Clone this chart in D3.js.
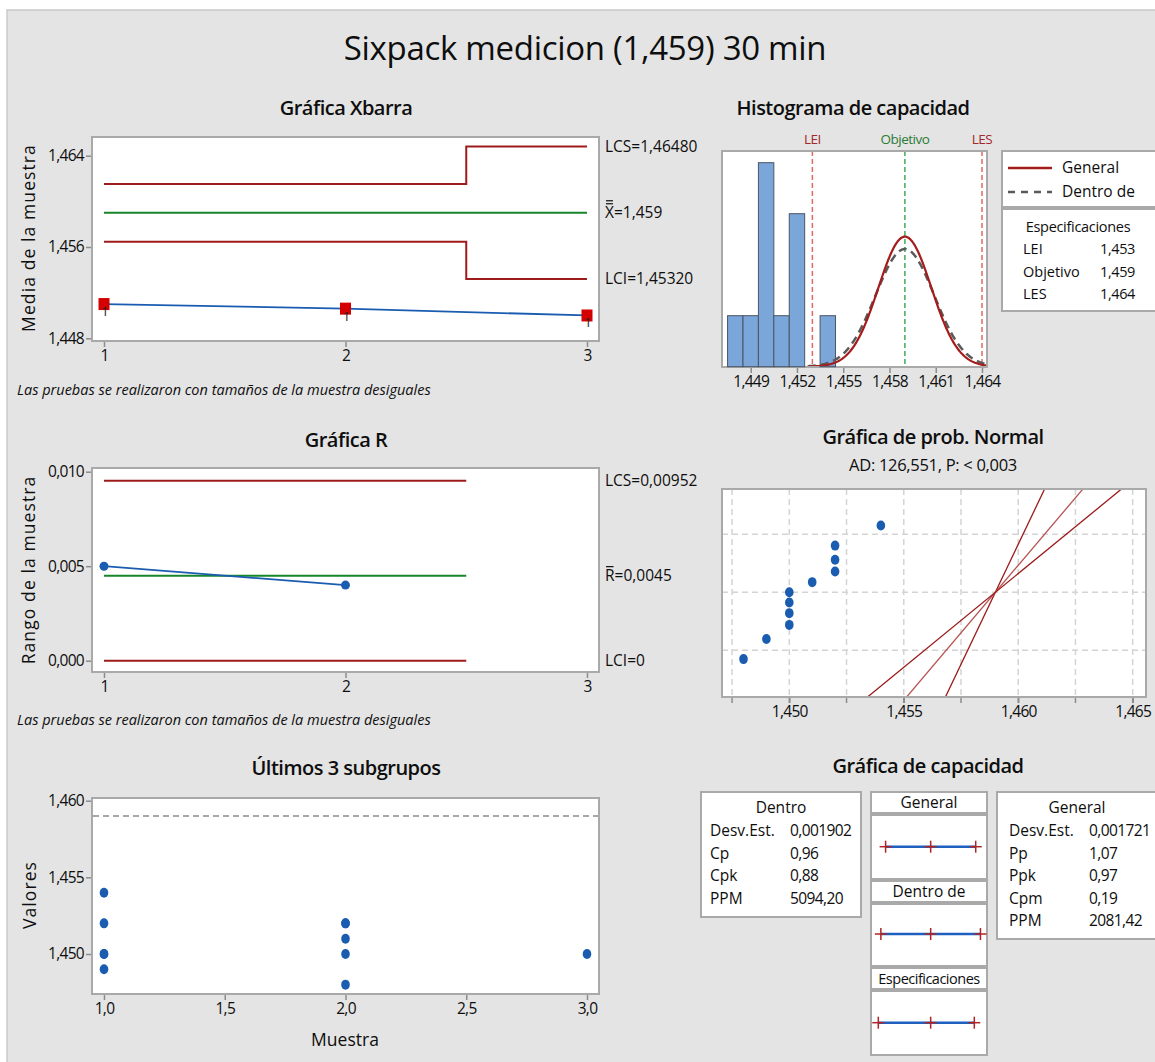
<!DOCTYPE html>
<html lang="es">
<head>
<meta charset="UTF-8">
<title>Sixpack medicion (1,459) 30 min</title>
<style>
  body { margin: 0; background: #fff; }
  svg text { font-family: "Open Sans", "Noto Sans", sans-serif; }
</style>
</head>
<body>
<svg width="1155" height="1062"></svg>
<script src="https://d3js.org/d3.v7.min.js"></script>
<script>

// ---- data ----
var subgroups = [1, 2, 3];
var subgroupValues = [
    [1.454, 1.452, 1.450, 1.450, 1.449],
    [1.452, 1.452, 1.451, 1.450, 1.448],
    [1.450]
];
var xbarMeans = [1.4510, 1.4506, 1.4500];
var xbarUCL = [1.46152, 1.46152, 1.46480];
var xbarLCL = [1.45645, 1.45645, 1.45320];
var xbarCenter = 1.459;

var rSubgroups = [1, 2];
var rValues = [0.005, 0.004];
var rUCL = [0.00952, 0.00952];
var rLCL = [0, 0];
var rCenter = 0.0045;

var histMids = [1.448, 1.449, 1.450, 1.451, 1.452, 1.453, 1.454];
var histCounts = [1, 1, 4, 1, 3, 0, 1];
var histTicks = [1.449, 1.452, 1.455, 1.458, 1.461, 1.464];

var specNames = ["LEI", "Objetivo", "LES"];
var specValues = [1.453, 1.459, 1.464];
var specLabels = ["1,453", "1,459", "1,464"];

var processMean = 1.459;
var sdWithin = 0.001902;
var sdOverall = 0.001721;
var nTotal = 11;

var probValues = [1.448, 1.449, 1.450, 1.450, 1.450, 1.450, 1.451, 1.452, 1.452, 1.452, 1.454];
var probLineSd = [0.001006, 0.001788, 0.002576];
var probTicks = [1.450, 1.455, 1.460, 1.465];
var probGridX = [1.4475, 1.450, 1.4525, 1.455, 1.4575, 1.460, 1.4625, 1.465];
var probGridZ = [-1.2, 0, 1.2];

var withinRows = [["Desv.Est.", "0,001902"], ["Cp", "0,96"], ["Cpk", "0,88"], ["PPM", "5094,20"]];
var overallRows = [["Desv.Est.", "0,001721"], ["Pp", "1,07"], ["Ppk", "0,97"], ["Cpm", "0,19"], ["PPM", "2081,42"]];

// ---- helpers ----
var locale = d3.formatLocale({decimal: ",", thousands: ".", grouping: [3], currency: ["", ""]});
var f3 = locale.format(".3f"), f1 = locale.format(".1f"), f0 = locale.format("d");

var RED = "#9e1b1b", GREEN = "#17862b", BLUE = "#1a5cb0", FRAME = "#a9a9a9", INK = "#0e0e0e";

var svg = d3.select("svg");
svg.append("rect").attr("x", 7).attr("y", 10).attr("width", 1150).attr("height", 1054)
    .attr("fill", "#e4e4e4").attr("stroke", "#c9c9c9").attr("stroke-width", 1.5);

function txt(x, y, s, size, anchor) {
    return svg.append("text").attr("x", x).attr("y", y).attr("font-size", size)
        .attr("fill", INK).attr("text-anchor", anchor || "start").text(s);
}

function title(x, y, s, size) {
    return txt(x, y, s, size, "middle").attr("font-weight", 600).attr("letter-spacing", -0.5);
}

function frame(x0, y0, x1, y1) {
    svg.append("rect").attr("x", x0).attr("y", y0).attr("width", x1 - x0).attr("height", y1 - y0)
        .attr("fill", "#fff").attr("stroke", FRAME).attr("stroke-width", 2);
}

function clip(id, x0, y0, x1, y1) {
    svg.append("clipPath").attr("id", id).append("rect")
        .attr("x", x0).attr("y", y0).attr("width", x1 - x0).attr("height", y1 - y0);
}

function styleAxis(g, size) {
    g.select(".domain").remove();
    g.selectAll(".tick line").attr("stroke", "#8c8c8c").attr("stroke-width", 1.5);
    g.selectAll(".tick text").attr("font-size", size || 15.5).attr("fill", INK)
        .attr("font-family", "'Open Sans', sans-serif").attr("letter-spacing", -0.7);
}

function leftAxis(y, x0, ticks, fmt) {
    var g = svg.append("g").attr("transform", "translate(" + (x0 - 1) + ",0)")
        .call(d3.axisLeft(y).tickValues(ticks).tickFormat(fmt).tickSize(5).tickPadding(2));
    styleAxis(g);
}

function bottomAxis(x, y1, ticks, fmt, size) {
    var g = svg.append("g").attr("transform", "translate(0," + (y1 + 1) + ")")
        .call(d3.axisBottom(x).tickValues(ticks).tickFormat(fmt).tickSize(5).tickPadding(3));
    styleAxis(g, size);
}

function vLabel(x, y, s) {
    svg.append("text").attr("transform", "translate(" + x + "," + y + ") rotate(-90)")
        .attr("text-anchor", "middle").attr("font-size", 17.5).attr("fill", INK)
        .attr("letter-spacing", 1.1).text(s);
}

// step line for limits: each subgroup from i-0.5 to i+0.5, clamped
function stepPoints(ids, vals) {
    var pts = [];
    ids.forEach(function(i, k) {
        pts.push([Math.max(1, i - 0.5), vals[k]]);
        pts.push([Math.min(3, i + 0.5), vals[k]]);
    });
    return pts;
}

// label with an overline (or double overline) over the first letter
function barLabel(x, y, letter, bars, rest) {
    var t = txt(x, y, letter, 15.5);
    var w = t.node().getComputedTextLength();
    for (var b = 0; b < bars; b++) {
        svg.append("line").attr("x1", x + 1).attr("x2", x + w - 1)
            .attr("y1", y - 14 - b * 3).attr("y2", y - 14 - b * 3)
            .attr("stroke", INK).attr("stroke-width", 1.2);
    }
    txt(x + w, y, rest, 15.5);
}

// inverse normal cdf (central region, Acklam) for plotting positions
function probit(p) {
    var a = [-39.69683028665376, 220.9460984245205, -275.9285104469687, 138.3577518672690, -30.66479806614716, 2.506628277459239];
    var b = [-54.47609879822406, 161.5858368580409, -155.6989798598866, 66.80131188771972, -13.28068155288572];
    var q = p - 0.5, r = q * q;
    return (((((a[0] * r + a[1]) * r + a[2]) * r + a[3]) * r + a[4]) * r + a[5]) * q /
        (((((b[0] * r + b[1]) * r + b[2]) * r + b[3]) * r + b[4]) * r + 1);
}

// ---- title ----
txt(585, 60, "Sixpack medicion (1,459) 30 min", 33, "middle").attr("letter-spacing", -0.3);

var xSub = d3.scaleLinear().domain([1, 3]).range([104, 587]);

// ---- Xbar chart ----
title(346, 115, "Gráfica Xbarra", 20);
frame(92, 137, 599, 341);
var yX = d3.scaleLinear().domain([1.448, 1.464]).range([338.3, 155.7]);
leftAxis(yX, 92, [1.448, 1.456, 1.464], f3);
bottomAxis(xSub, 341, subgroups, f0);
vLabel(35, 238, "Media de la muestra");

var limLine = d3.line().x(function(d) { return xSub(d[0]); }).y(function(d) { return yX(d[1]); });
svg.append("path").attr("d", limLine(stepPoints(subgroups, xbarUCL))).attr("fill", "none").attr("stroke", RED).attr("stroke-width", 2);
svg.append("path").attr("d", limLine(stepPoints(subgroups, xbarLCL))).attr("fill", "none").attr("stroke", RED).attr("stroke-width", 2);
svg.append("path").attr("d", limLine([[1, xbarCenter], [3, xbarCenter]])).attr("fill", "none").attr("stroke", GREEN).attr("stroke-width", 2);

svg.append("path").attr("d", limLine(subgroups.map(function(s, i) { return [s, xbarMeans[i]]; })))
    .attr("fill", "none").attr("stroke", BLUE).attr("stroke-width", 1.8);
svg.selectAll(".xsq").data(xbarMeans).enter().append("rect")
    .attr("x", function(d, i) { return xSub(subgroups[i]) - 5.5; })
    .attr("y", function(d) { return yX(d) - 6; })
    .attr("width", 11).attr("height", 12).attr("fill", "#d40000");
svg.selectAll(".xone").data(xbarMeans).enter().append("text")
    .attr("x", function(d, i) { return xSub(subgroups[i]) + 1; })
    .attr("y", function(d) { return yX(d) + 12; })
    .attr("font-size", 13).attr("fill", "#222").attr("text-anchor", "middle").text("1");

txt(605, yX(xbarUCL[2]) + 5, "LCS=1,46480", 15.5);
barLabel(605, yX(xbarCenter) + 5, "X", 2, "=1,459");
txt(605, yX(xbarLCL[2]) + 5, "LCI=1,45320", 15.5);
txt(17, 395, "Las pruebas se realizaron con tamaños de la muestra desiguales", 14.5).attr("font-style", "italic");

// ---- R chart ----
title(346, 447, "Gráfica R", 20);
frame(92, 468, 599, 672);
var yR = d3.scaleLinear().domain([0, 0.010]).range([660.7, 471.7]);
leftAxis(yR, 92, [0, 0.005, 0.010], f3);
bottomAxis(xSub, 672, subgroups, f0);
vLabel(35, 570, "Rango de la muestra");

var rLine = d3.line().x(function(d) { return xSub(d[0]); }).y(function(d) { return yR(d[1]); });
svg.append("path").attr("d", rLine(stepPoints(rSubgroups, rUCL))).attr("fill", "none").attr("stroke", RED).attr("stroke-width", 2);
svg.append("path").attr("d", rLine(stepPoints(rSubgroups, rLCL))).attr("fill", "none").attr("stroke", RED).attr("stroke-width", 2);
svg.append("path").attr("d", rLine([[1, rCenter], [2.5, rCenter]])).attr("fill", "none").attr("stroke", GREEN).attr("stroke-width", 2);
svg.append("path").attr("d", rLine(rSubgroups.map(function(s, i) { return [s, rValues[i]]; })))
    .attr("fill", "none").attr("stroke", BLUE).attr("stroke-width", 1.8);
svg.selectAll(".rpt").data(rValues).enter().append("circle")
    .attr("cx", function(d, i) { return xSub(rSubgroups[i]); })
    .attr("cy", function(d) { return yR(d); })
    .attr("r", 4.5).attr("fill", BLUE);

txt(605, yR(rUCL[0]) + 5, "LCS=0,00952", 15.5);
barLabel(605, yR(rCenter) + 5, "R", 1, "=0,0045");
txt(605, yR(0) + 5, "LCI=0", 15.5);
txt(17, 725, "Las pruebas se realizaron con tamaños de la muestra desiguales", 14.5).attr("font-style", "italic");

// ---- Last 3 subgroups ----
title(346, 775, "Últimos 3 subgrupos", 20);
frame(92, 798, 599, 994);
var yV = d3.scaleLinear().domain([1.450, 1.460]).range([954, 800.7]);
leftAxis(yV, 92, [1.450, 1.455, 1.460], f3);
bottomAxis(xSub, 994, [1, 1.5, 2, 2.5, 3], f1);
vLabel(36, 895, "Valores");
txt(345, 1046, "Muestra", 17.5, "middle");

svg.append("line").attr("x1", 93).attr("x2", 598).attr("y1", yV(processMean)).attr("y2", yV(processMean))
    .attr("stroke", "#8a8a8a").attr("stroke-width", 1.5).attr("stroke-dasharray", "6,4");
var lastPts = [];
subgroupValues.forEach(function(vals, i) { vals.forEach(function(v) { lastPts.push([subgroups[i], v]); }); });
svg.selectAll(".lpt").data(lastPts).enter().append("ellipse")
    .attr("cx", function(d) { return xSub(d[0]); })
    .attr("cy", function(d) { return yV(d[1]); })
    .attr("rx", 4.3).attr("ry", 5).attr("fill", BLUE);

// ---- Capability histogram ----
title(853, 115, "Histograma de capacidad", 20);
frame(722, 151, 987, 367);
var xH = d3.scaleLinear().domain([1.449, 1.464]).range([750.7, 982]);
var yH = d3.scaleLinear().domain([0, 4]).range([366.7, 162.7]);
bottomAxis(xH, 367, histTicks, f3);
clip("hclip", 723, 152, 986, 366);

svg.selectAll(".bar").data(histMids).enter().append("rect")
    .filter(function(d, i) { return histCounts[i] > 0; })
    .attr("x", function(d) { return xH(d - 0.0005); })
    .attr("y", function(d) { return yH(histCounts[histMids.indexOf(d)]); })
    .attr("width", function(d) { return xH(d + 0.0005) - xH(d - 0.0005); })
    .attr("height", function(d) { return yH(0) - yH(histCounts[histMids.indexOf(d)]); })
    .attr("fill", "#7ba6da").attr("stroke", "#4b5563").attr("stroke-width", 1);

var hg = svg.append("g").attr("clip-path", "url(#hclip)");
var specColors = ["#e06a6a", "#3fae5a", "#e06a6a"];
specValues.forEach(function(v, i) {
    hg.append("line").attr("x1", xH(v)).attr("x2", xH(v)).attr("y1", 151).attr("y2", 367)
        .attr("stroke", specColors[i]).attr("stroke-width", 1.5).attr("stroke-dasharray", "5,3");
});
var labelColors = ["#a3282a", "#2b7a36", "#a3282a"];
specNames.forEach(function(n, i) {
    txt(xH(specValues[i]), 144, n, 13.5, "middle").attr("fill", labelColors[i]).attr("letter-spacing", -0.5);
});

function curve(sd) {
    var pts = d3.range(1.4527, 1.4644, 0.00005).map(function(x) {
        var z = (x - processMean) / sd;
        return [x, nTotal * 0.001 * Math.exp(-0.5 * z * z) / (sd * Math.sqrt(2 * Math.PI))];
    });
    return d3.line().x(function(d) { return xH(d[0]); }).y(function(d) { return yH(d[1]); })(pts);
}
hg.append("path").attr("d", curve(sdWithin)).attr("fill", "none").attr("stroke", "#5a5a5a")
    .attr("stroke-width", 2.5).attr("stroke-dasharray", "8,5");
hg.append("path").attr("d", curve(sdOverall)).attr("fill", "none").attr("stroke", "#a51c1c").attr("stroke-width", 2.2);

// legend boxes
svg.append("rect").attr("x", 1002).attr("y", 151).attr("width", 165).attr("height", 56)
    .attr("fill", "#fff").attr("stroke", FRAME).attr("stroke-width", 2);
svg.append("line").attr("x1", 1008).attr("x2", 1052).attr("y1", 168).attr("y2", 168)
    .attr("stroke", "#a51c1c").attr("stroke-width", 2.5);
txt(1062, 173, "General", 15.5);
svg.append("line").attr("x1", 1008).attr("x2", 1052).attr("y1", 192).attr("y2", 192)
    .attr("stroke", "#5a5a5a").attr("stroke-width", 2.5).attr("stroke-dasharray", "7,6");
txt(1062, 197, "Dentro de", 15.5);

svg.append("rect").attr("x", 1002).attr("y", 209).attr("width", 165).attr("height", 102)
    .attr("fill", "#fff").attr("stroke", FRAME).attr("stroke-width", 2);
txt(1078, 232, "Especificaciones", 14.5, "middle").attr("letter-spacing", -0.3);
specNames.forEach(function(n, i) {
    txt(1023, 254 + i * 22.5, n, 14.5);
    txt(1135, 254 + i * 22.5, specLabels[i], 14.5, "end").attr("letter-spacing", -0.4);
});

// ---- Normal probability plot ----
title(933, 444, "Gráfica de prob. Normal", 20);
txt(933, 471, "AD: 126,551, P: < 0,003", 16.5, "middle").attr("letter-spacing", -0.3);
frame(722, 489, 1146, 697);
var xP = d3.scaleLinear().domain([1.450, 1.465]).range([789.3, 1132.7]);
var yP = d3.scaleLinear().domain([-2.161, 2.133]).range([696.7, 489.3]);
bottomAxis(xP, 697, probTicks, f3);
clip("pclip", 723, 490, 1145, 696);

var pg = svg.append("g").attr("clip-path", "url(#pclip)");
probGridX.forEach(function(v) {
    pg.append("line").attr("x1", xP(v)).attr("x2", xP(v)).attr("y1", 489).attr("y2", 697)
        .attr("stroke", "#d4d4d4").attr("stroke-width", 1.5).attr("stroke-dasharray", "6,4");
});
probGridZ.forEach(function(z) {
    pg.append("line").attr("x1", 722).attr("x2", 1146).attr("y1", yP(z)).attr("y2", yP(z))
        .attr("stroke", "#d4d4d4").attr("stroke-width", 1.5).attr("stroke-dasharray", "6,4");
});
// small ticks for the minor grid positions
probGridX.forEach(function(v) {
    svg.append("line").attr("x1", xP(v)).attr("x2", xP(v)).attr("y1", 698).attr("y2", 703)
        .attr("stroke", "#8c8c8c").attr("stroke-width", 1.5);
});
probLineSd.forEach(function(sd, i) {
    pg.append("line")
        .attr("x1", xP(processMean + sd * yP.domain()[0])).attr("y1", yP(yP.domain()[0]))
        .attr("x2", xP(processMean + sd * yP.domain()[1])).attr("y2", yP(yP.domain()[1]))
        .attr("stroke", i === 1 ? "#b75252" : "#9a1a1a").attr("stroke-width", 1.3);
});
var sorted = probValues.slice().sort(d3.ascending);
svg.selectAll(".ppt").data(sorted).enter().append("ellipse")
    .attr("cx", function(d) { return xP(d); })
    .attr("cy", function(d, i) { return yP(probit((i + 1) / (sorted.length + 1))); })
    .attr("rx", 4.3).attr("ry", 5).attr("fill", BLUE);

// ---- Capability plot ----
title(928, 773, "Gráfica de capacidad", 20);

function statBox(x0, y0, x1, y1, head, hx, rows, lx, vx) {
    svg.append("rect").attr("x", x0).attr("y", y0).attr("width", x1 - x0).attr("height", y1 - y0)
        .attr("fill", "#fff").attr("stroke", FRAME).attr("stroke-width", 2);
    txt(hx, y0 + 21, head, 15.5, "middle");
    rows.forEach(function(r, i) {
        txt(lx, y0 + 44 + i * 22.6, r[0], 15.5);
        txt(vx, y0 + 44 + i * 22.6, r[1], 15.5).attr("letter-spacing", -0.6);
    });
}
statBox(701, 792, 861, 917, "Dentro", 781, withinRows, 710, 790);
statBox(997, 792, 1170, 939, "General", 1077, overallRows, 1009, 1089);

var xC = d3.scaleLinear().domain([1.453, 1.464]).range([878.3, 974.3]);
var intervals = [
    {head: "General", y0: 792, y1: 813, b1: 879, line: 846.7,
     pts: [processMean - 3 * sdOverall, processMean, processMean + 3 * sdOverall]},
    {head: "Dentro de", y0: 881, y1: 902, b1: 966, line: 934,
     pts: [processMean - 3 * sdWithin, processMean, processMean + 3 * sdWithin]},
    {head: "Especificaciones", y0: 968, y1: 989, b1: 1055, line: 1022.7, pts: specValues}
];
intervals.forEach(function(iv) {
    var long = iv.head.length > 10;
    svg.append("rect").attr("x", 871).attr("y", iv.y0).attr("width", 116).attr("height", iv.y1 - iv.y0)
        .attr("fill", "#fff").attr("stroke", FRAME).attr("stroke-width", 2);
    txt(929, iv.y1 - 5, iv.head, long ? 14.5 : 15.5, "middle")
        .attr("letter-spacing", long ? -0.5 : 0);
    svg.append("rect").attr("x", 871).attr("y", iv.y1 + 2).attr("width", 116).attr("height", iv.b1 - iv.y1 - 2)
        .attr("fill", "#fff").attr("stroke", FRAME).attr("stroke-width", 2);
    svg.append("line").attr("x1", xC(iv.pts[0])).attr("x2", xC(iv.pts[2])).attr("y1", iv.line).attr("y2", iv.line)
        .attr("stroke", "#1f5fc0").attr("stroke-width", 2.5);
    iv.pts.forEach(function(p) {
        svg.append("line").attr("x1", xC(p) - 6).attr("x2", xC(p) + 6).attr("y1", iv.line).attr("y2", iv.line)
            .attr("stroke", "#b02424").attr("stroke-width", 1.5);
        svg.append("line").attr("x1", xC(p)).attr("x2", xC(p)).attr("y1", iv.line - 6).attr("y2", iv.line + 6)
            .attr("stroke", "#b02424").attr("stroke-width", 1.5);
    });
});

</script>
</body>
</html>
